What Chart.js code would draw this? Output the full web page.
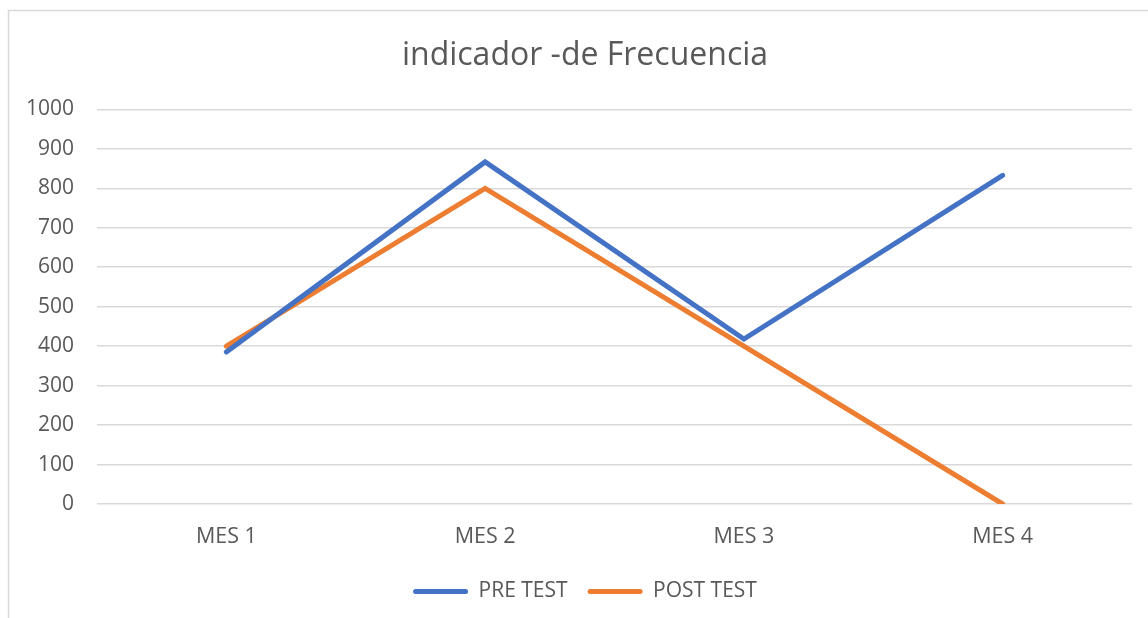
<!DOCTYPE html>
<html>
<head>
<meta charset="utf-8">
<script src="https://cdn.jsdelivr.net/npm/chart.js@4.4.1/dist/chart.umd.min.js"></script>
<style>
  html, body { margin: 0; padding: 0; background: #fff; overflow: hidden; }
  #wrap { width: 1148px; height: 618px; position: relative; overflow: hidden; }
  #c { position: absolute; left: 0; top: 0; }
</style>
</head>
<body>
<div id="wrap"><canvas id="c" width="1178" height="618"></canvas></div>
<script>
const categories = ["MES 1", "MES 2", "MES 3", "MES 4"];
const preTest = [385, 867, 418, 833];
const postTest = [400, 800, 400, 0];
const seriesNames = ["PRE TEST", "POST TEST"];
const titleText = "indicador -de Frecuencia";

const FONT = "'Open Sans', sans-serif";
const TXT = "#595959";
const GRID = "#d9d9d9";

const framePlugin = {
  id: 'frame',
  beforeDraw(chart) {
    const ctx = chart.ctx;
    ctx.save();
    ctx.fillStyle = '#ffffff';
    ctx.fillRect(0, 0, chart.width, chart.height);
    ctx.strokeStyle = GRID;
    ctx.lineWidth = 1.5;
    ctx.beginPath();
    ctx.moveTo(8.5, chart.height + 2);
    ctx.lineTo(8.5, 10.5);
    ctx.lineTo(chart.width + 2, 10.5);
    ctx.stroke();
    ctx.restore();
  }
};

new Chart(document.getElementById('c'), {
  type: 'line',
  data: {
    labels: categories,
    datasets: [
      { label: seriesNames[0], data: preTest, borderColor: '#4472C4', backgroundColor: '#4472C4',
        borderWidth: 5, pointRadius: 0, pointHoverRadius: 0, tension: 0,
        borderCapStyle: 'round', borderJoinStyle: 'miter' },
      { label: seriesNames[1], data: postTest, borderColor: '#ED7D31', backgroundColor: '#ED7D31',
        borderWidth: 5, pointRadius: 0, pointHoverRadius: 0, tension: 0,
        borderCapStyle: 'round', borderJoinStyle: 'miter' }
    ]
  },
  options: {
    responsive: false,
    animation: false,
    events: [],
    layout: { padding: { left: 8, right: 16, top: 10, bottom: 6 } },
    plugins: {
      title: {
        display: true, text: titleText, color: TXT,
        font: { family: FONT, size: 32, weight: 'normal' },
        padding: { top: 27, bottom: 34 }
      },
      legend: {
        display: true, position: 'bottom',
        labels: {
          color: TXT, font: { family: FONT, size: 21 },
          boxWidth: 55, boxHeight: 5, padding: 20,
          useBorderRadius: true, borderRadius: 2.5,
          generateLabels(chart) {
            return chart.data.datasets.map((ds, i) => ({
              text: ds.label, fillStyle: ds.borderColor, strokeStyle: ds.borderColor,
              lineWidth: 0, fontColor: TXT, hidden: false, datasetIndex: i, borderRadius: 2.5
            }));
          }
        }
      },
      tooltip: { enabled: false }
    },
    scales: {
      x: {
        offset: true,
        grid: { display: false, drawTicks: false },
        border: { display: false },
        ticks: { color: TXT, font: { family: FONT, size: 21.5 }, padding: 20, maxRotation: 0 },
        afterFit(scale) { scale.height = 57; }
      },
      y: {
        min: 0, max: 1000,
        grid: { color: GRID, lineWidth: 1.5, drawTicks: false },
        border: { display: false },
        ticks: { stepSize: 100, color: TXT, font: { family: FONT, size: 21 }, padding: 23,
                 callback: (v) => String(v) },
        afterFit(scale) { scale.width = 89; }
      },
      yRightSpacer: {
        position: 'right',
        display: true,
        grid: { display: false, drawTicks: false },
        border: { display: false },
        ticks: { display: false },
        afterFit(scale) { scale.width = 30; }
      }
    }
  },
  plugins: [framePlugin]
});
</script>
</body>
</html>
